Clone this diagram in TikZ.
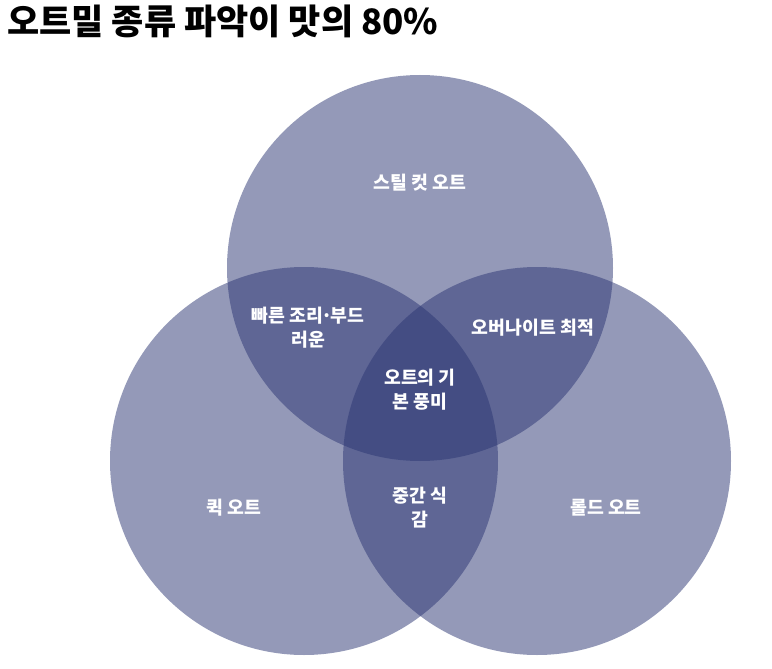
\documentclass[tikz,border=0pt]{standalone}
\usepackage{fontspec}
\setmainfont{Noto Sans CJK KR}
\definecolor{venn}{HTML}{2B3573}
\begin{document}
\begin{tikzpicture}[x=1pt,y=-1pt,
  setc/.style={fill=venn,fill opacity=0.5,draw=none},
  lbl/.style={text=white,font=\bfseries\fontsize{18.3}{24}\selectfont,align=center,inner sep=0pt},
  ttl/.style={text=black,font=\bfseries\fontsize{35}{38}\selectfont,inner sep=0pt,anchor=base west}]
\useasboundingbox (0,0) rectangle (772,669);
\fill[white] (0,0) rectangle (772,669);
\node[ttl] (title) at (7,35) {오트밀 종류 파악이 맛의 80\%};
\path[setc] (420,268) circle (193);
\path[setc] (304,461) circle (194);
\path[setc] (537,461) circle (194);
\node[lbl] (steel) at (420,183) {스틸 컷 오트};
\node[lbl] (quick) at (234,508) {퀵 오트};
\node[lbl] (rolled) at (606,508) {롤드 오트};
\node[lbl] (sq) at (308,328) {빠른 조리\kern-0.1em·\kern-0.1em부드\\러운};
\node[lbl] (sr) at (533,328) {오버나이트 최적};
\node[lbl] (qr) at (420,508) {중간 식\\감};
\node[lbl] (all) at (420,390) {오트의 기\\본 풍미};
\end{tikzpicture}
\end{document}
